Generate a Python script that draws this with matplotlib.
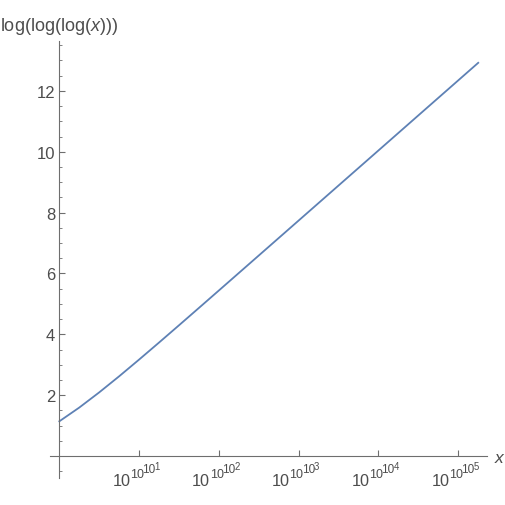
import matplotlib
matplotlib.use("Agg")
import matplotlib.pyplot as plt
from matplotlib.ticker import MultipleLocator

plt.rcParams['font.family'] = ['Liberation Sans', 'DejaVu Sans']
plt.rcParams['mathtext.fontset'] = 'custom'
plt.rcParams['mathtext.rm'] = 'Liberation Sans'
plt.rcParams['mathtext.it'] = 'Liberation Sans:italic'

# x position is log10(log10(log10(x))), y is log(log(log(x)))
u_vals = [0.0, 0.25, 0.5, 0.75, 1.0, 1.25, 1.5, 1.75, 2.0, 2.5, 3.0, 3.5, 4.0, 4.5, 5.0, 5.25]
y_vals = [1.143, 1.595, 2.094, 2.623, 3.172, 3.732, 4.299, 4.870, 5.443, 6.592, 7.742,
          8.893, 10.044, 11.196, 12.347, 12.923]
x_ticks = [1, 2, 3, 4, 5]
x_exponents = ['1', '2', '3', '4', '5']
y_ticks = [2, 4, 6, 8, 10, 12]

axis_gray = '#6e6e6e'
text_gray = '#4d4d4d'

fig = plt.figure(figsize=(5.06, 5.06), dpi=100)
ax = fig.add_axes([50 / 506, 27 / 506, 437 / 506, 437 / 506])

ax.plot(u_vals, y_vals, color='#5E81B5', lw=1.3)

ax.set_xlim(-0.117, 5.36)
ax.set_ylim(-0.72, 13.64)

ax.spines['left'].set_position(('data', 0))
ax.spines['bottom'].set_position(('data', 0))
ax.spines['top'].set_visible(False)
ax.spines['right'].set_visible(False)
for s in ('left', 'bottom'):
    ax.spines[s].set_color(axis_gray)
    ax.spines[s].set_linewidth(0.8)

ax.set_xticks(x_ticks)
ax.set_xticklabels([])
ax.set_yticks(y_ticks)
ax.yaxis.set_minor_locator(MultipleLocator(0.5))

ax.tick_params(axis='x', direction='in', length=4, width=0.8, color=axis_gray)
ax.tick_params(axis='y', which='major', direction='in', length=4, width=0.8,
               color=axis_gray, labelcolor=text_gray, labelsize=12, pad=3)
ax.tick_params(axis='y', which='minor', direction='in', length=2.5, width=0.6,
               color=axis_gray)

# stacked power tower labels 10^10^10^k, built piece by piece (offsets in pixels)
pieces = [(-26.7, 28.7, 11.7), (-9.3, 20.7, 9.0), (2.9, 16.0, 8.5)]
for t, e in zip(x_ticks, x_exponents):
    for dx, dy, fs in pieces:
        ax.annotate('10', xy=(t, 0), xycoords='data', textcoords='offset pixels',
                    xytext=(dx, -dy), ha='left', va='baseline', fontsize=fs,
                    color=text_gray, annotation_clip=False)
    ax.annotate(e, xy=(t, 0), xycoords='data', textcoords='offset pixels',
                xytext=(15.4, -13.0), ha='left', va='baseline', fontsize=6.9,
                color=text_gray, annotation_clip=False)

fig.text(0, 1 - 31 / 506, r'log(log(log($x$)))', ha='left', va='baseline',
         fontsize=13, color=text_gray)
ax.annotate(r'$x$', xy=(5.36, 0), xycoords='data', textcoords='offset pixels',
            xytext=(6.5, -6), ha='left', va='baseline', fontsize=12.5,
            color=text_gray, annotation_clip=False)

fig.savefig('out.png', dpi=100)
